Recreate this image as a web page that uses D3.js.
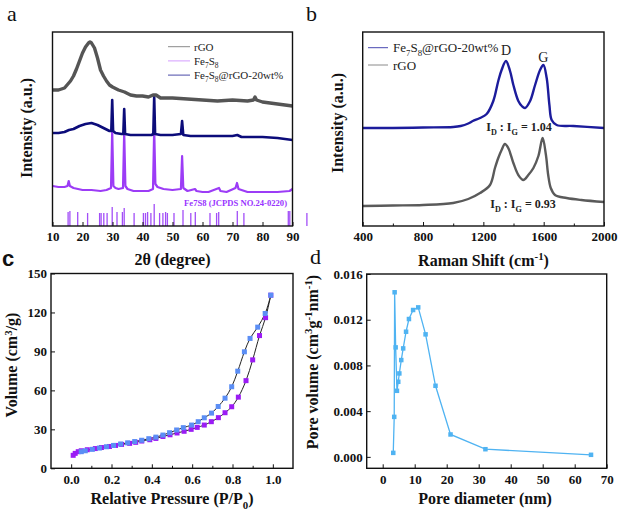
<!DOCTYPE html>
<html><head><meta charset="utf-8">
<script src="https://cdn.jsdelivr.net/npm/d3@7"></script>
<style>
html,body{margin:0;padding:0;background:#fff;}
svg{display:block;font-family:'Liberation Serif','Times New Roman',serif;}
</style></head>
<body>
<svg id="chart" width="618" height="513"></svg>
<script>
// ---------- DATA ----------
// (a) XRD
const xrdRgoX = [10,12,14,16,17,18,19,20,21,22,22.5,23,24,25,26,27,28,29,30,32,34,36,38,40,42,43.5,44.5,46,50,55,60,65,70,75,77,77.5,78,80,85,90];
const xrdRgoY = [136,136,138,145,150,157,165,173,179,183,184,183,178,168,156,150,145,141,139,136,134,131,130,130,129,131,131,128,128,127,126,125,126,125,126,129,126,124,122,120];
const xrdCompX = [10,12,14,15.5,17,19,21,23,25,27,29,29.6,29.9,30.2,31,33,33.6,33.9,34.2,36,40,43,43.6,43.9,44.2,46,50,52.8,53.2,53.6,56,60,65,70,71.6,73,80,85,90];
const xrdCompY = [93,93,94,96,97,100,102,103,101,98,95,95,126,95,93,92,92,117,92,91,91,91,92,129,92,91,91,92,105,91,90,90,90,90,91,89,89,88,86];
const xrdFeX = [10,12,14,15,15.4,15.8,17,20,23,26,28,29.5,29.9,30.3,31,32,33.5,33.9,34.3,35,37,40,42,43.5,43.9,44.3,45,47,50,52.8,53.2,53.6,55,57.5,58,60,62,65.5,66,68,71,71.5,72,75,80,85,89,90];
const xrdFeY = [40,39,39,40,45,40,38,36,36,35,36,38,95,40,38,37,38,94,40,37,35,35,35,37,97,42,39,37,36,37,70,38,35,37,35,34,34,38,35,34,38,43,37,34,34,34,35,37];
const jcpdsPos = [15.2,15.8,18.4,21.7,25.7,26.2,27.1,28.2,29.9,31.5,33.3,33.9,37.2,40.3,41.0,41.7,42.8,43.9,45.7,46.8,47.7,48.3,50.5,53.5,56.1,57.6,62.5,64.7,65.4,71.6,73.8,88.6,89.1,94.8];
const jcpdsInt = [14,15,14,13,13,13,13,13,19,14,14,18,13,13,13,14,13,22,13,13,14,13,13,16,13,14,13,13,14,15,13,15,15,13];
const xrdTicks = [10,20,30,40,50,60,70,80,90];

// (b) Raman
const ramCompX = [400,600,800,1000,1050,1100,1130,1178,1222,1266,1299,1321,1350,1377,1399,1432,1455,1476,1510,1543,1576,1598,1620,1638,1653,1686,1797,2000];
const ramCompY = [98,98,98.5,99,100,102.5,105,108,112,125,145,156,165,155,141,125,120,118,125,141,156,161,148,121,106,101,100,98];
const ramRgoX = [400,600,800,1000,1100,1178,1244,1277,1299,1321,1343,1365,1399,1432,1465,1498,1532,1565,1593,1615,1630,1647,1675,1752,1850,2000];
const ramRgoY = [20,20.5,21,23,27,33,41,58,68,76,82,78,63,51,46,51,58,70,88,71,51,38,31,28,26,24];
const ramTicks = [400,800,1200,1600,2000];
const ramMinor = [600,1000,1400,1800];

// (c) N2 isotherm
const adsP = [0.01,0.02,0.035,0.05,0.08,0.12,0.15,0.19,0.22,0.25,0.29,0.32,0.35,0.39,0.42,0.455,0.49,0.525,0.56,0.595,0.625,0.66,0.695,0.73,0.763,0.796,0.829,0.867,0.90,0.934,0.964,0.99];
const adsV = [10.0,11.5,12.8,13.5,14.3,15.2,16.0,16.8,17.6,18.4,19.2,20.0,21.0,22.0,23.0,24.5,25.8,27.2,28.5,30.0,31.5,33.3,35.9,39.0,42.8,47.4,54.8,67.5,83.5,102.2,116.0,133.3];
const desP = [0.05,0.07,0.105,0.14,0.175,0.21,0.245,0.28,0.315,0.35,0.385,0.42,0.455,0.488,0.523,0.556,0.597,0.63,0.66,0.696,0.729,0.763,0.796,0.826,0.859,0.887,0.925,0.962,0.99];
const desV = [12.8,13.5,14.6,15.6,16.6,17.6,18.7,19.6,20.6,21.6,22.8,24.0,25.6,27.4,29.5,31.3,33.3,35.9,38.9,42.5,47.6,54.0,62.8,74.8,89.7,100.0,108.7,119.2,133.3];
const isoXTicks = [0,0.2,0.4,0.6,0.8,1.0];
const isoXMinor = [0.1,0.3,0.5,0.7,0.9];
const isoYTicks = [0,30,60,90,120,150];

// (d) pore size distribution
const poreD = [3.3,3.6,3.73,4.05,4.45,4.86,5.2,5.8,6.4,7.3,8.2,9.5,11.1,13.4,16.5,21.2,32.1,65.1];
const poreV = [0.00035,0.0035,0.0144,0.00958,0.00578,0.00657,0.0073,0.00847,0.00949,0.01095,0.01206,0.01285,0.01308,0.01072,0.00622,0.00196,0.00067,0.00018];
const poreXTicks = [0,10,20,30,40,50,60,70];
const poreYTicks = [0,0.004,0.008,0.012,0.016];

// ---------- DRAW ----------
const svg = d3.select('#chart');
const SERIF = "'Liberation Serif','Times New Roman',serif";

function rich(t, parts, fs, supShift){
  let cur = 0;
  const ss = supShift || 0.4;
  parts.forEach(([s,k])=>{
    const off = k==='sub'? fs*0.3 : k==='sup'? -fs*ss : 0;
    const ts = t.append('tspan').text(s).attr('dy', off-cur);
    if(k!=='n') ts.attr('font-size', fs*0.68);
    cur = off;
  });
}
function frame(P){
  svg.append('rect').attr('x',P.l).attr('y',P.t).attr('width',P.r-P.l).attr('height',P.b-P.t)
    .attr('fill','none').attr('stroke','#111').attr('stroke-width',1.4);
}
function xAxis(P, x, major, minor, fmt){
  const g = svg.append('g').attr('transform',`translate(0,${P.b})`)
    .call(d3.axisBottom(x).tickValues(major).tickSizeInner(-4).tickSizeOuter(0).tickPadding(6).tickFormat(fmt));
  g.select('.domain').remove();
  g.selectAll('text').attr('font-family',SERIF).attr('font-weight','bold').attr('font-size',13).attr('fill','#111');
  g.selectAll('line').attr('stroke','#111');
  if(minor){
    const m = svg.append('g').attr('transform',`translate(0,${P.b})`)
      .call(d3.axisBottom(x).tickValues(minor).tickSizeInner(-2.5).tickSizeOuter(0).tickFormat(''));
    m.select('.domain').remove(); m.selectAll('line').attr('stroke','#111');
  }
}
function yAxis(P, y, major, minor, fmt){
  const g = svg.append('g').attr('transform',`translate(${P.l},0)`)
    .call(d3.axisLeft(y).tickValues(major).tickSizeInner(-4).tickSizeOuter(0).tickPadding(4).tickFormat(fmt));
  g.select('.domain').remove();
  g.selectAll('text').attr('font-family',SERIF).attr('font-weight','bold').attr('font-size',13).attr('fill','#111');
  g.selectAll('line').attr('stroke','#111');
  if(minor){
    const m = svg.append('g').attr('transform',`translate(${P.l},0)`)
      .call(d3.axisLeft(y).tickValues(minor).tickSizeInner(-2.5).tickSizeOuter(0).tickFormat(''));
    m.select('.domain').remove(); m.selectAll('line').attr('stroke','#111');
  }
}
function xTitle(cx, y, parts){
  const t = svg.append('text').attr('x',cx).attr('y',y).attr('text-anchor','middle')
    .attr('font-family',SERIF).attr('font-weight','bold').attr('font-size',16).attr('fill','#111');
  rich(t, parts, 16);
}
function yTitle(x, cy, parts, ss){
  const t = svg.append('text').attr('transform',`translate(${x},${cy}) rotate(-90)`).attr('text-anchor','middle')
    .attr('font-family',SERIF).attr('font-weight','bold').attr('font-size',16).attr('fill','#111').attr('dy','0.35em');
  rich(t, parts, 16, ss);
}
function letter(x,y,s,bold,sans){
  svg.append('text').attr('x',x).attr('y',y).text(s)
    .attr('font-family', sans? "'Liberation Sans',Arial,sans-serif" : SERIF)
    .attr('font-weight', bold?'bold':'normal').attr('font-size',22).attr('fill','#111');
}
const zip = (a,b)=>a.map((v,i)=>[v,b[i]]);

// ----- Panel a -----
const A = {l:52.5, r:292.5, t:32, b:226};
const xa = d3.scaleLinear([10,90],[A.l,A.r]);
const ya = d3.scaleLinear([0,194],[A.b,A.t]);
const lineA = d3.line().x(d=>xa(d[0])).y(d=>ya(d[1]));
svg.append('g').selectAll('line').data(zip(jcpdsPos,jcpdsInt)).join('line')
  .attr('x1',d=>xa(d[0])).attr('x2',d=>xa(d[0])).attr('y1',ya(0)).attr('y2',d=>ya(d[1]))
  .attr('stroke','#a24ef7').attr('stroke-width',1.3);
svg.append('path').datum(zip(xrdFeX,xrdFeY)).attr('d',lineA).attr('fill','none').attr('stroke','#9c3cf6').attr('stroke-width',2.2).attr('stroke-linejoin','round');
svg.append('path').datum(zip(xrdCompX,xrdCompY)).attr('d',lineA).attr('fill','none').attr('stroke','#0c0c7a').attr('stroke-width',2.6).attr('stroke-linejoin','round');
svg.append('path').datum(zip(xrdRgoX,xrdRgoY)).attr('d',lineA).attr('fill','none').attr('stroke','#555').attr('stroke-width',3.4).attr('stroke-linejoin','round');
svg.append('text').attr('x',287).attr('y',206).attr('text-anchor','end').text('Fe7S8 (JCPDS NO.24-0220)')
  .attr('font-family',SERIF).attr('font-weight','bold').attr('font-size',8.6).attr('fill','#9933ff');
frame(A);
xAxis(A, xa, xrdTicks, null, d3.format('d'));
// legend a
const legA = [['#8a8a8a',[['rGO','n']]],['#d49cff',[['Fe','n'],['7','sub'],['S','n'],['8','sub']]],['#4a4aa8',[['Fe','n'],['7','sub'],['S','n'],['8','sub'],['@rGO-20wt%','n']]]];
legA.forEach((d,i)=>{
  const y = 46.7 + i*14.2;
  svg.append('line').attr('x1',168).attr('x2',190).attr('y1',y).attr('y2',y).attr('stroke',d[0]).attr('stroke-width',1);
  const t = svg.append('text').attr('x',194).attr('y',y+3.8).attr('font-family',SERIF).attr('font-size',11).attr('fill','#222');
  rich(t, d[1], 11);
});
xTitle(172.5, 265, [['2θ (degree)','n']]);
yTitle(31.5, 128, [['Intensity (a.u.)','n']]);
letter(7,21,'a');

// ----- Panel b -----
const B = {l:362.7, r:604, t:32, b:226};
const xb = d3.scaleLinear([400,2000],[B.l,B.r]);
const yb = d3.scaleLinear([0,194],[B.b,B.t]);
const lineB = d3.line().x(d=>xb(d[0])).y(d=>yb(d[1])).curve(d3.curveCatmullRom);
svg.append('path').datum(zip(ramRgoX,ramRgoY)).attr('d',lineB).attr('fill','none').attr('stroke','#5a5a5a').attr('stroke-width',2.4);
svg.append('path').datum(zip(ramCompX,ramCompY)).attr('d',lineB).attr('fill','none').attr('stroke','#1c1c9c').attr('stroke-width',2.4);
frame(B);
xAxis(B, xb, ramTicks, ramMinor, d3.format('d'));
const legB = [['#4848b0',[['Fe','n'],['7','sub'],['S','n'],['8','sub'],['@rGO-20wt%','n']]],['#8a8a8a',[['rGO','n']]]];
legB.forEach((d,i)=>{
  const y = 47.7 + i*17.3;
  svg.append('line').attr('x1',368).attr('x2',388).attr('y1',y).attr('y2',y).attr('stroke',d[0]).attr('stroke-width',1);
  const t = svg.append('text').attr('x',393).attr('y',y+4.5).attr('font-family',SERIF).attr('font-size',13).attr('fill','#222');
  rich(t, d[1], 13);
});
svg.append('text').attr('x',xb(1350)).attr('y',55).attr('text-anchor','middle').text('D').attr('font-family',SERIF).attr('font-size',14).attr('fill','#222');
svg.append('text').attr('x',xb(1598)).attr('y',62).attr('text-anchor','middle').text('G').attr('font-family',SERIF).attr('font-size',14).attr('fill','#222');
const r1 = svg.append('text').attr('x',519).attr('y',131).attr('text-anchor','middle').attr('font-family',SERIF).attr('font-weight','bold').attr('font-size',12).attr('fill','#222');
rich(r1, [['I','n'],['D','sub'],[' : I','n'],['G','sub'],[' = 1.04','n']], 12);
const r2 = svg.append('text').attr('x',523).attr('y',208).attr('text-anchor','middle').attr('font-family',SERIF).attr('font-weight','bold').attr('font-size',12).attr('fill','#222');
rich(r2, [['I','n'],['D','sub'],[' : I','n'],['G','sub'],[' = 0.93','n']], 12);
xTitle(483.5, 266, [['Raman Shift (cm','n'],['-1','sup'],[')','n']]);
yTitle(343, 123, [['Intensity (a.u.)','n']]);
letter(306,21,'b');

// ----- Panel c -----
const C = {l:51, r:293, t:273.5, b:468.3};
const xc = d3.scaleLinear([-0.1,1.1],[C.l,C.r]);
const yc = d3.scaleLinear([0,150],[C.b,C.t]);
const lineC = d3.line().x(d=>xc(d[0])).y(d=>yc(d[1])).curve(d3.curveCatmullRom);
const ads = zip(adsP,adsV), des = zip(desP,desV);
svg.append('path').datum(ads).attr('d',lineC).attr('fill','none').attr('stroke','#222').attr('stroke-width',1);
svg.append('path').datum(des).attr('d',lineC).attr('fill','none').attr('stroke','#222').attr('stroke-width',1);
const ms = 5;
svg.append('g').selectAll('rect').data(ads).join('rect')
  .attr('x',d=>xc(d[0])-ms/2).attr('y',d=>yc(d[1])-ms/2).attr('width',ms).attr('height',ms).attr('fill','#9b1bf5');
svg.append('g').selectAll('rect').data(des).join('rect')
  .attr('x',d=>xc(d[0])-ms/2).attr('y',d=>yc(d[1])-ms/2).attr('width',ms).attr('height',ms).attr('fill','#5b8ef5');
frame(C);
xAxis(C, xc, isoXTicks, isoXMinor, d3.format('.1f'));
yAxis(C, yc, isoYTicks, null, d3.format('d'));
xTitle(172, 504, [['Relative Pressure (P/P','n'],['0','sub'],[')','n']]);
yTitle(16.5, 365, [['Volume (cm','n'],['3','sup'],['/g)','n']], 0.3);
letter(2,266,'c',true,true);

// ----- Panel d -----
const D = {l:366.7, r:606.7, t:274, b:468.3};
const xd = d3.scaleLinear([-5,70],[D.l,D.r]);
const yd = d3.scaleLinear([-0.001,0.016],[D.b,D.t]);
const pore = zip(poreD,poreV);
svg.append('path').datum(pore).attr('d',d3.line().x(d=>xd(d[0])).y(d=>yd(d[1]))).attr('fill','none').attr('stroke','#4fb3f2').attr('stroke-width',1.3);
const ps = 4.5;
svg.append('g').selectAll('rect').data(pore).join('rect')
  .attr('x',d=>xd(d[0])-ps/2).attr('y',d=>yd(d[1])-ps/2).attr('width',ps).attr('height',ps).attr('fill','#4fb3f2');
frame(D);
xAxis(D, xd, poreXTicks, null, d3.format('d'));
yAxis(D, yd, poreYTicks, null, d3.format('.3f'));
xTitle(485, 504, [['Pore diameter (nm)','n']]);
yTitle(318, 362, [['Pore volume (cm','n'],['3','sup'],['g','n'],['-1','sup'],['nm','n'],['-1','sup'],[')','n']]);
letter(310,264,'d');
</script>
</body></html>
